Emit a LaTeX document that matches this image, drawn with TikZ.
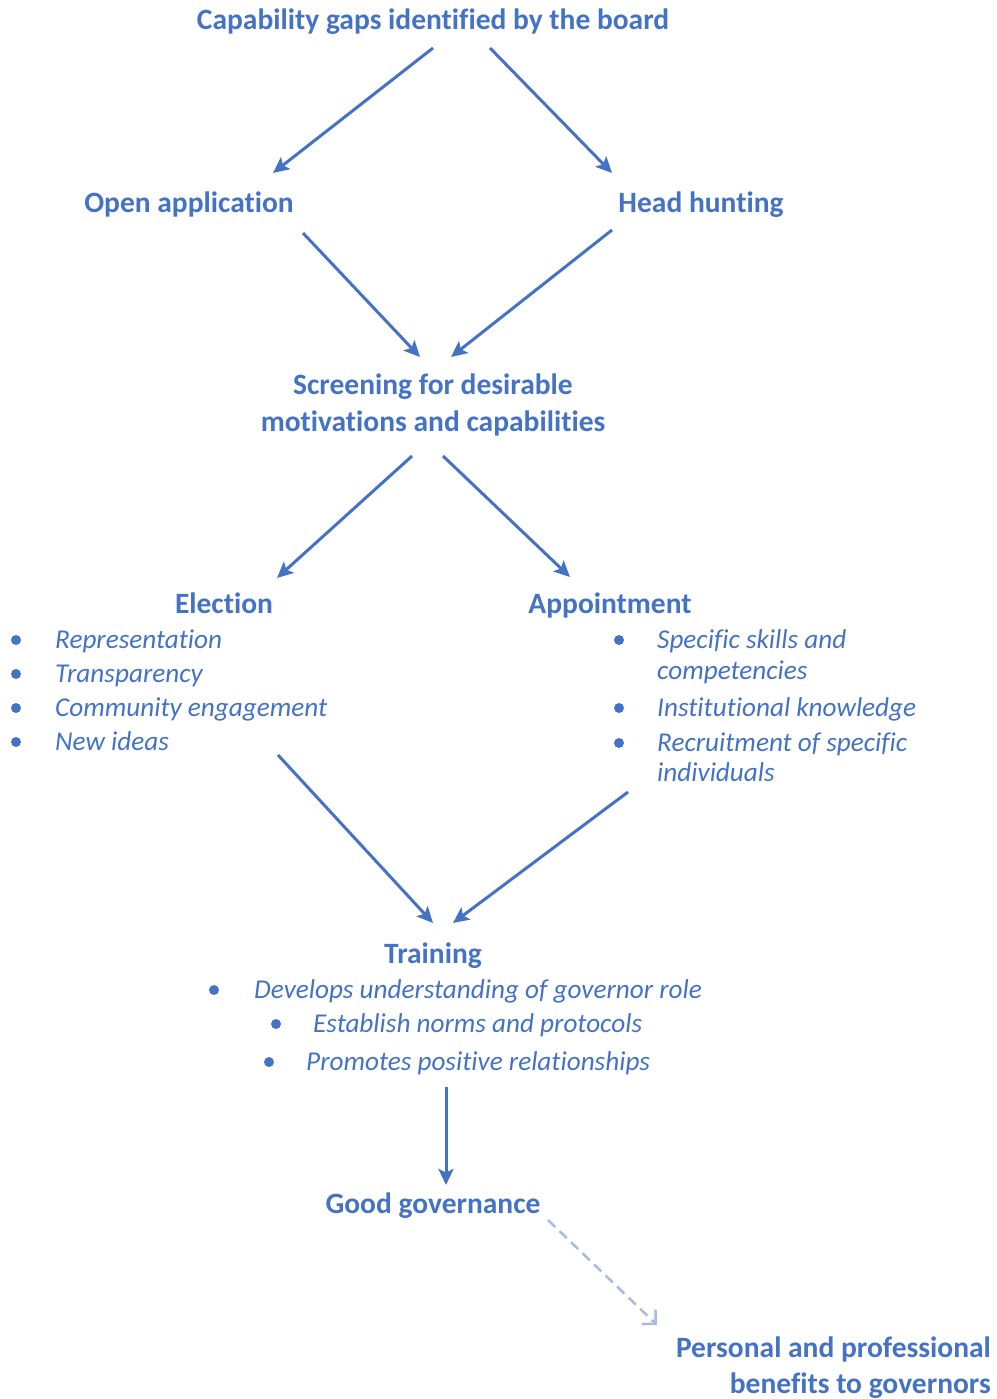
\documentclass[tikz,border=0pt]{standalone}
\usepackage{fontspec}
\setmainfont{Carlito}[Ligatures=NoCommon]
\usetikzlibrary{arrows.meta}
\definecolor{ob}{HTML}{4472C4}
\definecolor{lb}{HTML}{A9BBE0}
\begin{document}
\begin{tikzpicture}[x=1pt,y=-1pt,
  head/.style={text=ob,font=\fontsize{29.5}{35}\selectfont\bfseries,inner sep=0pt,anchor=base},
  item/.style={text=ob,font=\fontsize{27.2}{32}\selectfont\itshape,inner sep=0pt,anchor=base west},
  arr/.style={draw=ob,line width=3pt,-{Stealth[length=16pt,width=15pt,inset=3.5pt]}},
  darr/.style={draw=lb,line width=2.5pt,dash pattern=on 10pt off 6pt,-{Straight Barb[length=10pt,width=20pt,line width=2.5pt]}},
  dot/.style={fill=ob}]
\useasboundingbox (0,0) rectangle (996,1399);

\node[head] (title) at (433,30) {Capability gaps identified by the board};
\node[head] (open) at (189,212) {Open application};
\node[head] (hunt) at (701,212) {Head hunting};
\node[head] (scr1) at (433,394) {Screening for desirable};
\node[head] (scr2) at (433,431) {motivations and capabilities};
\node[head] (elect) at (224,613) {Election};
\node[head] (appt) at (610,613) {Appointment};
\node[head] (train) at (433,963) {Training};
\node[head] (good) at (433,1213) {Good governance};
\node[head,anchor=base east] (pers1) at (991,1357) {Personal and professional};
\node[head,anchor=base east] (pers2) at (991,1393) {benefits to governors};

% Election bullets
\node[item] (e1) at (55,648) {Representation};
\node[item] (e2) at (55,682) {Transparency};
\node[item] (e3) at (55,716) {Community engagement};
\node[item] (e4) at (55,750) {New ideas};
\foreach \yy in {640,674,708,742} \fill[dot] (16,\yy) circle (5pt);

% Appointment bullets
\node[item] (a1) at (657,648) {Specific skills and};
\node[item] (a1b) at (657,679) {competencies};
\node[item] (a2) at (657,716) {Institutional knowledge};
\node[item] (a3) at (657,751) {Recruitment of specific};
\node[item] (a3b) at (657,781) {individuals};
\foreach \yy in {640,708,743} \fill[dot] (619,\yy) circle (5pt);

% Training bullets
\node[item] (t1) at (254,998) {Develops understanding of governor role};
\node[item] (t2) at (313,1032) {Establish norms and protocols};
\node[item] (t3) at (306,1070) {Promotes positive relationships};
\fill[dot] (214,990) circle (5pt);
\fill[dot] (276,1024) circle (5pt);
\fill[dot] (269,1062) circle (5pt);

% connectors
\draw[arr] ([shift={(0,18)}]title.base) -- ([shift={(84,-39)}]open.base);
\draw[arr] ([shift={(57,18)}]title.base) -- ([shift={(-89,-39)}]hunt.base);
\draw[arr] ([shift={(114,21)}]open.base) -- ([shift={(-13,-37)}]scr1.base);
\draw[arr] ([shift={(-89,18)}]hunt.base) -- ([shift={(18,-37)}]scr1.base);
\draw[arr] ([shift={(-21,25)}]scr2.base) -- ([shift={(53,-35)}]elect.base);
\draw[arr] ([shift={(10,25)}]scr2.base) -- ([shift={(-40,-36)}]appt.base);
\draw[arr] ([shift={(54,142)}]elect.base) -- ([shift={(0,-40)}]train.base);
\draw[arr] ([shift={(18,179)}]appt.base) -- ([shift={(20,-40)}]train.base);
\draw[arr] ([shift={(13,124)}]train.base) -- ([shift={(13,-28)}]good.base);
\draw[darr] ([shift={(115,7)}]good.base) -- ([shift={(-334,-32)}]pers1.base east);
\end{tikzpicture}
\end{document}
